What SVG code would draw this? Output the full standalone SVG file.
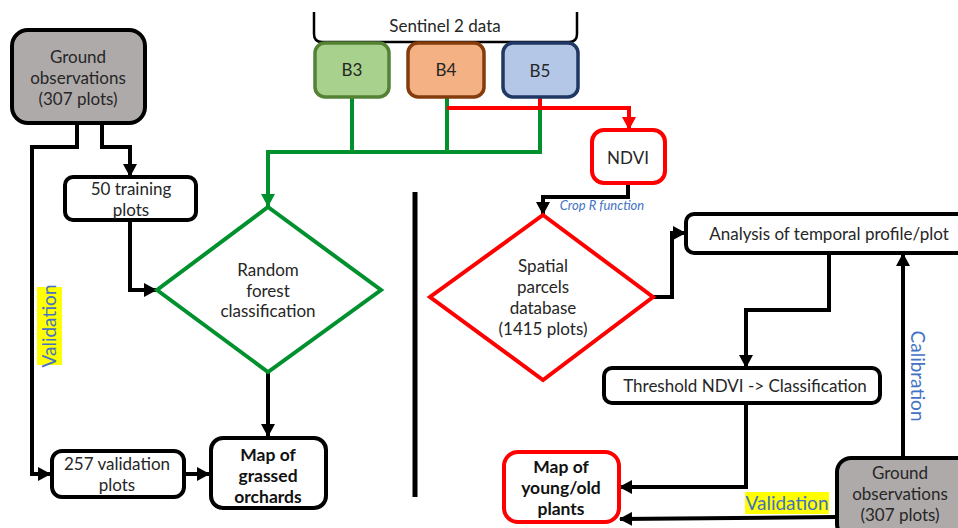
<svg xmlns="http://www.w3.org/2000/svg" width="958" height="528" viewBox="0 0 958 528">
<defs>
<marker id="ak" markerUnits="userSpaceOnUse" markerWidth="14" markerHeight="14" refX="12" refY="7" orient="auto"><path d="M0,0 L13,7 L0,14 z" fill="#000"/></marker>
<marker id="ag" markerUnits="userSpaceOnUse" markerWidth="14" markerHeight="14" refX="12" refY="7" orient="auto"><path d="M0,0 L13,7 L0,14 z" fill="#00912e"/></marker>
<marker id="ar" markerUnits="userSpaceOnUse" markerWidth="14" markerHeight="14" refX="12" refY="7" orient="auto"><path d="M0,0 L13,7 L0,14 z" fill="#ff0000"/></marker>
<style>
text{font-family:Lato,"Open Sans",sans-serif;fill:#262626;text-anchor:middle}
.t{font-size:17px}
.b{font-size:17.5px;font-weight:bold;fill:#111}
.box{fill:#fff;stroke:#000;stroke-width:4}
.gray{fill:#aeaaaa;stroke:#000;stroke-width:4}
.red{fill:#fff;stroke:#ff0000;stroke-width:4}
.c{fill:none;stroke:#000;stroke-width:4}
.g{fill:none;stroke:#00912e;stroke-width:4}
.r{fill:none;stroke:#ff0000;stroke-width:4}
.lab{fill:#4472c4;font-size:19px}
</style>
</defs>
<rect width="958" height="528" fill="#fff"/>

<g id="connectors">
<path class="c" d="M77,123 V147 H32 V474 H50" marker-end="url(#ak)"/>
<path class="c" d="M102,123 V147 H130 V176" marker-end="url(#ak)"/>
<path class="c" d="M130,220 V290 H156" marker-end="url(#ak)"/>
<path class="c" d="M268,372 V436" marker-end="url(#ak)"/>
<path class="c" d="M184,474 H209" marker-end="url(#ak)"/>
<path class="g" d="M352,97 V152"/>
<path class="g" d="M447,97 V152"/>
<path class="g" d="M540,108 V152 H268 V206" marker-end="url(#ag)"/>
<path class="r" d="M540,97 V108"/>
<path class="r" d="M447,108 H629 V129" marker-end="url(#ar)"/>
<path class="c" d="M628,183 V197 H543 V214" marker-end="url(#ak)"/>
<path class="c" d="M653,297 H672 V233 H685" marker-end="url(#ak)"/>
<path class="c" d="M829,253 V310 H746 V367" marker-end="url(#ak)"/>
<path class="c" d="M746,403 V487 H620" marker-end="url(#ak)"/>
<path class="c" d="M903,458 V254" marker-end="url(#ak)"/>
<path class="c" d="M837,517 L620,519" marker-end="url(#ak)"/>
<line x1="415" y1="192" x2="415" y2="497" stroke="#000" stroke-width="5"/>
</g>

<g id="sentinel">
<path d="M314,12 V34 Q314,42 322,42 H569 Q577,42 577,34 V12" fill="none" stroke="#000" stroke-width="2.5"/>
<text class="t" x="445" y="32">Sentinel 2 data</text>
</g>
<g id="b3"><rect x="315" y="43" width="74" height="54" rx="10" fill="#a9d18e" stroke="#548235" stroke-width="3.5"/><text class="t" x="352" y="76">B3</text></g>
<g id="b4"><rect x="408" y="43" width="76" height="54" rx="10" fill="#f4b183" stroke="#843c0c" stroke-width="3.5"/><text class="t" x="446" y="76">B4</text></g>
<g id="b5"><rect x="503" y="43" width="75" height="54" rx="10" fill="#b4c7e7" stroke="#203864" stroke-width="3.5"/><text class="t" x="540" y="77">B5</text></g>

<g id="ground-left">
<rect class="gray" x="12" y="30" width="133" height="93" rx="16"/>
<text class="t" x="78" y="63">Ground</text>
<text class="t" x="78" y="84">observations</text>
<text class="t" x="78" y="105">(307 plots)</text>
</g>
<g id="training">
<rect class="box" x="65" y="177" width="131" height="43" rx="8"/>
<text class="t" x="131" y="195">50 training</text>
<text class="t" x="131" y="216">plots</text>
</g>
<g id="random-forest">
<polygon points="268,207 381,290 268,372 157,290" fill="#fff" stroke="#00912e" stroke-width="4"/>
<text class="t" x="268" y="276">Random</text>
<text class="t" x="268" y="297">forest</text>
<text class="t" x="268" y="317">classification</text>
</g>
<g id="validation-plots">
<rect class="box" x="52" y="451" width="132" height="46" rx="10"/>
<text class="t" x="117" y="470">257 validation</text>
<text class="t" x="117" y="491">plots</text>
</g>
<g id="map-grassed">
<rect class="box" x="211" y="438" width="115" height="70" rx="12"/>
<text class="b" x="268" y="461">Map of</text>
<text class="b" x="268" y="482">grassed</text>
<text class="b" x="268" y="503">orchards</text>
</g>
<g id="validation-left">
<rect x="37" y="287" width="25" height="78" fill="#ffff00"/>
<text class="lab" transform="translate(56,326) rotate(-90)" x="0" y="0">Validation</text>
</g>

<g id="ndvi">
<rect class="red" x="592" y="130" width="73" height="53" rx="12"/>
<text class="t" x="628" y="164">NDVI</text>
</g>
<text x="602" y="210" style="font-size:13px;font-style:italic;fill:#4472c4">Crop R function</text>
<g id="spatial">
<polygon points="543,215 653,297 543,380 430,297" fill="#fff" stroke="#ff0000" stroke-width="4"/>
<text class="t" x="543" y="272">Spatial</text>
<text class="t" x="543" y="293">parcels</text>
<text class="t" x="543" y="314">database</text>
<text class="t" x="543" y="335">(1415 plots)</text>
</g>
<g id="analysis">
<rect class="box" x="686" y="214" width="290" height="39" rx="8"/>
<text class="t" x="829" y="240">Analysis of temporal profile/plot</text>
</g>
<g id="threshold">
<rect class="box" x="604" y="368" width="276" height="35" rx="8"/>
<text class="t" x="745" y="392">Threshold NDVI -&gt; Classification</text>
</g>
<g id="map-young">
<rect class="red" x="504" y="452" width="115" height="70" rx="14"/>
<text class="b" x="561" y="473">Map of</text>
<text class="b" x="561" y="494">young/old</text>
<text class="b" x="561" y="515">plants</text>
</g>
<g id="ground-right">
<rect class="gray" x="837" y="458" width="140" height="80" rx="14"/>
<text class="t" x="900" y="479">Ground</text>
<text class="t" x="900" y="500">observations</text>
<text class="t" x="900" y="521">(307 plots)</text>
</g>
<g id="validation-right">
<rect x="745" y="492" width="84" height="22" fill="#ffff00"/>
<text class="lab" x="787" y="510">Validation</text>
</g>
<text class="lab" transform="translate(911,376) rotate(90)" x="0" y="0">Calibration</text>
</svg>
